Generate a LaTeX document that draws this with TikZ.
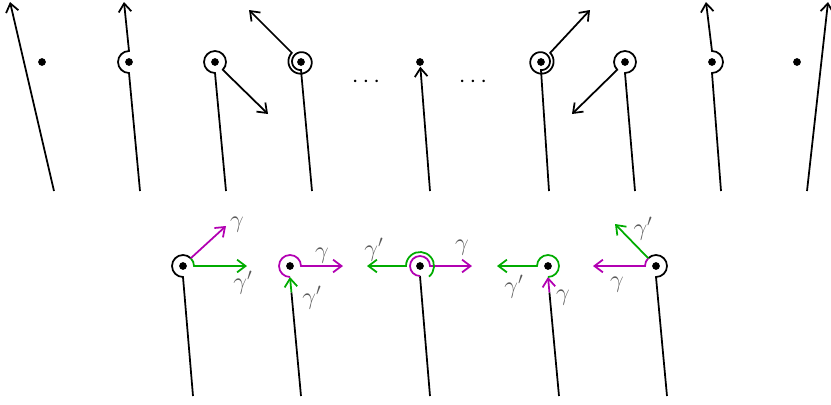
\documentclass[tikz,border=0pt]{standalone}
\usetikzlibrary{arrows.meta,calc}
\definecolor{gam}{RGB}{178,0,178}
\definecolor{gamp}{RGB}{0,172,0}
\tikzset{
    pt/.style={fill,circle,inner sep=0pt,minimum size=5.5pt},
    lab/.style={text=black!65,font=\LARGE,inner sep=0pt},
    >={Straight Barb[length=6pt,width=9pt]}
}

\begin{document}
\begin{tikzpicture}[x=0.025cm,y=0.025cm,line width=1.25pt]
    \useasboundingbox (0,0) rectangle (831,404);
    % top row
    \node[pt] (p1) at (42,342) {};
    \node[pt] (p2) at (129,342) {};
    \node[pt] (p3) at (215,342) {};
    \node[pt] (p4) at (301,342) {};
    \node[pt] (p5) at (420,342) {};
    \node[pt] (p6) at (541,342) {};
    \node[pt] (p7) at (625,342) {};
    \node[pt] (p8) at (712,342) {};
    \node[pt] (p9) at (797,342) {};
    \node[inner sep=0pt] (d1) at (366,322) {\LARGE$\cdots$};
    \node[inner sep=0pt] (d2) at (473,322) {\LARGE$\cdots$};
    \coordinate (e1) at (54,213); \coordinate (a1) at (10,402);
    \coordinate (e2) at (140,213); \coordinate (a2) at (124,402);
    \coordinate (e3) at (226,213); \coordinate (a3) at (268,290);
    \coordinate (e4) at (312,213); \coordinate (a4) at (249,394);
    \coordinate (e5) at (430,213);
    \coordinate (e6) at (549,213); \coordinate (a6) at (590,394);
    \coordinate (e7) at (635,213); \coordinate (a7) at (572,290);
    \coordinate (e8) at (721,213); \coordinate (a8) at (706,402);
    \coordinate (e9) at (807,213); \coordinate (a9) at (828,402);
    \draw[->] (e1) -- (a1);
    \draw[->] (e2) -- ($(p2)+(0,-11)$) arc (-90:-270:11) -- (a2);
    \draw[->] (e3) -- ($(p3)+(0,-11)$) arc (270:-45:11) -- (a3);
    \draw[->] (e4) -- ($(p4)+(0,-8)$) -- plot[domain=0:495,samples=90]
        ({301+(8+5*\x/495)*cos(270-\x)},{342+(8+5*\x/495)*sin(270-\x)}) -- (a4);
    \draw[->] (e5) -- (p5);
    \draw[->] (e6) -- ($(p6)+(0,-8)$) -- plot[domain=0:495,samples=90]
        ({541+(8+5*\x/495)*cos(270+\x)},{342+(8+5*\x/495)*sin(270+\x)}) -- (a6);
    \draw[->] (e7) -- ($(p7)+(0,-11)$) arc (-90:225:11) -- (a7);
    \draw[->] (e8) -- ($(p8)+(0,-11)$) arc (-90:90:11) -- (a8);
    \draw[->] (e9) -- (a9);
    % bottom row
    \node[pt] (q1) at (183,138) {};
    \node[pt] (q2) at (290,138) {};
    \node[pt] (q3) at (420,138) {};
    \node[pt] (q4) at (548,138) {};
    \node[pt] (q5) at (656,138) {};
    \coordinate (f1) at (193,8); \coordinate (f2) at (301,8); \coordinate (f3) at (430,8);
    \coordinate (f4) at (559,8); \coordinate (f5) at (667,8);
    \coordinate (g1) at (226,178); \coordinate (h1) at (247,138);
    \coordinate (g2) at (343,138);
    \coordinate (g3) at (472,138); \coordinate (h3) at (367,138);
    \coordinate (h4) at (497,138);
    \coordinate (g5) at (593,138); \coordinate (h5) at (615,180);
    \draw (f1) -- ($(q1)+(0,-11)$) arc (270:45:11);
    \draw[->,gamp] ($(q1)+(45:11)$) arc (45:0:11) -- (h1);
    \draw[->,gam] ($(q1)+(45:11)$) -- (g1);
    \node[lab] (l1) at (237,179) {$\gamma$};
    \node[lab] (m1) at (243,121) {$\gamma'$};
    \draw (f2) -- ($(f2)!0.87!($(q2)+(0,-11)$)$) coordinate (k2);
    \draw[->,gamp] (k2) -- ($(q2)+(0,-11)$);
    \draw[->,gam] ($(q2)+(0,-11)$) arc (270:0:11) -- (g2);
    \node[lab] (l2) at (322,148) {$\gamma$};
    \node[lab] (m2) at (312,106) {$\gamma'$};
    \draw (f3) -- ($(q3)+(0,-10)$);
    \draw[->,gam] ($(q3)+(0,-10)$) arc (270:0:10) -- (g3);
    \draw[->,gamp] ($(q3)+(-50:14)$) arc (-50:180:14) -- (h3);
    \node[lab] (l3) at (462,156) {$\gamma$};
    \node[lab] (m3) at (374,154) {$\gamma'$};
    \draw (f4) -- ($(f4)!0.87!($(q4)+(0,-11)$)$) coordinate (k4);
    \draw[->,gam] (k4) -- ($(q4)+(0,-11)$);
    \draw[->,gamp] ($(q4)+(0,-11)$) arc (-90:180:11) -- (h4);
    \node[lab] (l4) at (563,106) {$\gamma$};
    \node[lab] (m4) at (514,117) {$\gamma'$};
    \draw (f5) -- ($(q5)+(0,-11)$) arc (-90:135:11);
    \draw[->,gam] ($(q5)+(135:11)$) arc (135:180:11) -- (g5);
    \draw[->,gamp] ($(q5)+(135:11)$) -- (h5);
    \node[lab] (l5) at (617,119) {$\gamma$};
    \node[lab] (m5) at (643,175) {$\gamma'$};
\end{tikzpicture}
\end{document}
